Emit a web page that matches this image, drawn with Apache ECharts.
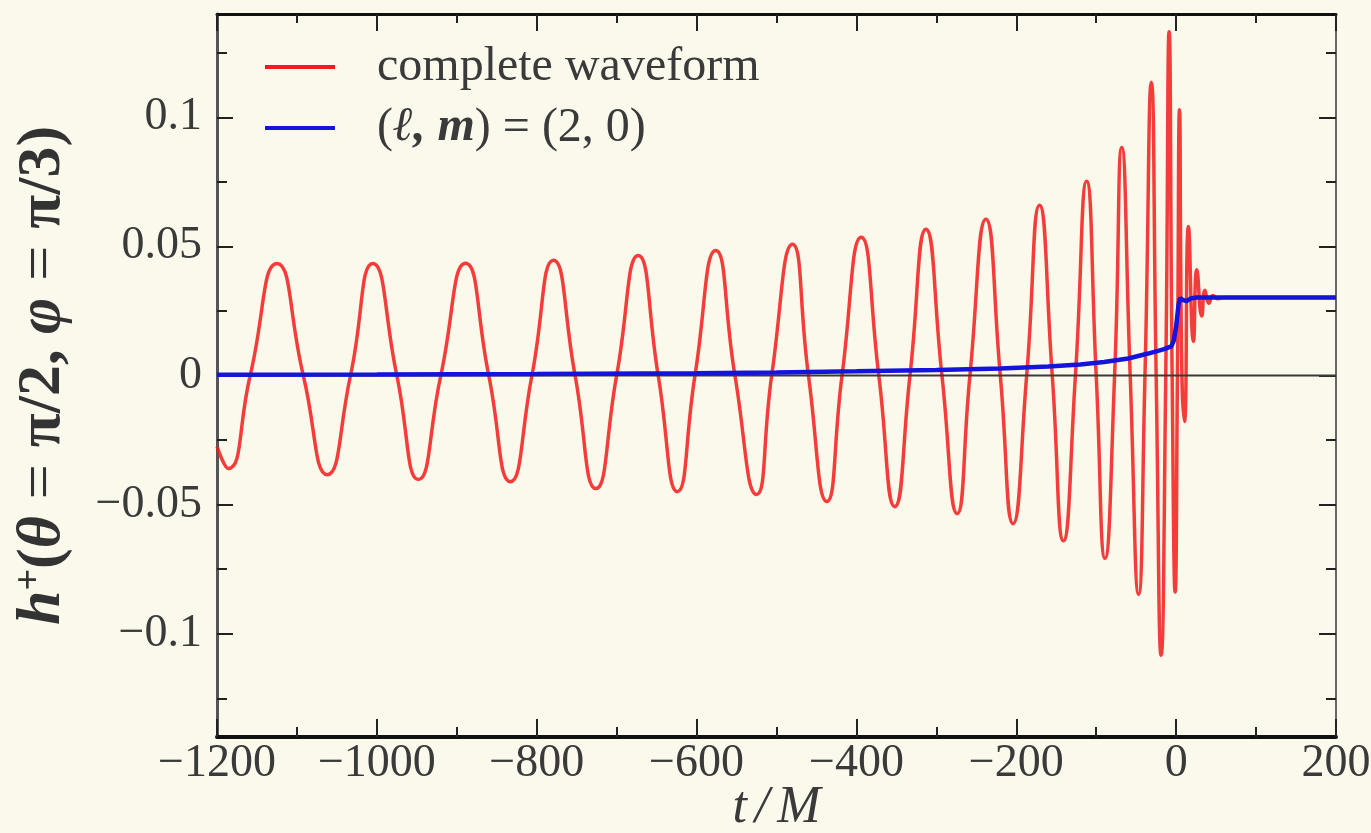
<!DOCTYPE html>
<html>
<head>
<meta charset="utf-8">
<script src="https://cdn.jsdelivr.net/npm/echarts@6/dist/echarts.min.js"></script>
<style>
  html, body { margin: 0; padding: 0; background: #FAF9EC; }
  #chart { width: 1371px; height: 833px; }
</style>
</head>
<body>
<div id="chart"></div>
<script>
// ---- data ----
const seriesNames = ['complete waveform', '(\u2113, m) = (2, 0)'];

// complete waveform h+ : [t/M, value] (peaks, troughs and zero crossings)
const completeWaveform = [
  [-1200, -0.0275], [-1186, -0.036], [-1158.5, 0], [-1125, 0.0434], [-1092, 0],
  [-1062, -0.0384], [-1033, 0], [-1005, 0.0434], [-975, 0], [-948, -0.0403],
  [-920, 0], [-889, 0.0435], [-860, 0], [-833, -0.0411], [-806, 0],
  [-779, 0.0446], [-752, 0], [-726, -0.0438], [-700, 0], [-673, 0.0465],
  [-648, 0], [-624, -0.045], [-602, 0], [-576, 0.0484], [-552, 0],
  [-525, -0.0461], [-506, 0], [-480, 0.0508], [-460, 0], [-437, -0.0488],
  [-418, 0], [-394, 0.0535], [-372, 0], [-352, -0.0508], [-333, 0],
  [-313, 0.0566], [-293, 0], [-274, -0.0535], [-258, 0], [-238, 0.0605],
  [-220, 0], [-204, -0.0574], [-187, 0], [-171, 0.0659], [-155, 0],
  [-141, -0.064], [-126, 0], [-112, 0.0752], [-100, 0], [-89, -0.0708],
  [-77, 0], [-68, 0.0883], [-57.5, 0], [-47, -0.0847], [-39, 0],
  [-31, 0.1136], [-25, 0], [-18.8, -0.1083], [-13, 0], [-8.8, 0.1331],
  [-5, 0], [-1.25, -0.0838], [1.6, 0], [4.2, 0.1029], [7.2, 0],
  [10.4, -0.0178], [15.4, 0.0577], [21.6, 0.0132], [25.9, 0.041], [32, 0.023],
  [36, 0.033], [41, 0.028], [46, 0.031], [52, 0.0297], [60, 0.0302],
  [80, 0.0302], [200, 0.0302]
];

// (l, m) = (2, 0) memory mode : [t/M, value]
const mode20 = [
  [-1200, 0.0003], [-1000, 0.0004], [-800, 0.0006], [-600, 0.0009], [-500, 0.0012],
  [-400, 0.0016], [-300, 0.0021], [-220, 0.0027], [-160, 0.0035], [-120, 0.0043],
  [-90, 0.0052], [-60, 0.0066], [-35, 0.0085], [-15, 0.0102], [-6, 0.0113],
  [-3, 0.0135], [0, 0.019], [3, 0.0275], [5, 0.030], [9, 0.0292],
  [13, 0.0288], [18, 0.0298], [25, 0.0302], [200, 0.0302]
];

// horizontal reference line h = 0
const zeroLine = [[-1200, 0], [200, 0]];

// axis ticks
const xMin = -1200, xMax = 200, xStep = 200;
const yMin = -0.14, yMax = 0.14;
const yMajorTicks = [-0.1, -0.05, 0, 0.05, 0.1];
const yMinorTicks = [-0.125, -0.075, -0.025, 0.025, 0.075, 0.125];

// ---- chart ----
const FONT = 'Liberation Serif';
const TXT = '#3a3a3a';
const fmt = v => (v < 0 ? '\u2212' : '') + Math.abs(v);

const xBase = {
  type: 'value', min: xMin, max: xMax, interval: xStep,
  splitLine: { show: false },
  axisLine: { show: true, onZero: false, lineStyle: { color: '#111', width: 4 } },
  axisTick: { show: true, inside: true, length: 18, lineStyle: { color: '#222', width: 2 } },
  minorTick: { show: true, splitNumber: 2, length: 10, lineStyle: { color: '#222', width: 2 } }
};
const yBase = {
  type: 'value', min: yMin, max: yMax,
  splitLine: { show: false }
};
const tickStyle = { color: '#222', width: 2 };
const titleStyle = { fontFamily: FONT, fontSize: 62, fontWeight: 'bold', color: '#333', lineHeight: 64 };
const xNameStyle = { fontFamily: FONT, fontStyle: 'italic', fontSize: 52, color: TXT, lineHeight: 50 };

const option = {
  backgroundColor: '#FAF9EC',
  animation: false,
  grid: { left: 217, right: 35, top: 14, bottom: 96, containLabel: false, outerBoundsMode: 'none' },
  legend: {
    orient: 'vertical', left: 265, top: 42, padding: 0, itemGap: 11,
    itemWidth: 70, itemHeight: 4, icon: 'rect', selectedMode: false,
    data: seriesNames,
    formatter: n => n === seriesNames[1] ? '{n|(}{i|\u2113, m}{n|) = (2, 0)}' : n,
    textStyle: {
      fontFamily: FONT, fontSize: 48, color: TXT, lineHeight: 50, padding: [0, 0, 0, 37],
      rich: {
        n: { fontFamily: FONT, fontSize: 48, color: TXT, lineHeight: 50 },
        i: { fontFamily: FONT, fontSize: 48, color: TXT, lineHeight: 50, fontStyle: 'italic', fontWeight: 'bold' }
      }
    }
  },
  xAxis: [
    Object.assign({}, xBase, {
      position: 'bottom',
      axisLabel: { fontFamily: FONT, fontSize: 46, color: TXT, margin: 4, formatter: fmt },
      name: '{a|t}{s|/}{a|M}', nameLocation: 'middle', nameGap: 46, nameMoveOverlap: false,
      nameTextStyle: {
        rich: {
          a: xNameStyle,
          s: Object.assign({}, xNameStyle, { padding: [0, 8, 0, 8] })
        }
      }
    }),
    Object.assign({}, xBase, {
      position: 'top',
      axisLine: { show: true, onZero: false, lineStyle: { color: '#111', width: 3 } },
      axisTick: { show: true, inside: true, length: 17, lineStyle: { color: '#222', width: 2 } },
      minorTick: { show: true, splitNumber: 2, length: 9, lineStyle: { color: '#222', width: 2 } },
      axisLabel: { show: false }
    })
  ],
  yAxis: [
    Object.assign({}, yBase, {
      position: 'left',
      axisLine: { show: true, onZero: false, lineStyle: { color: '#555', width: 3 } },
      axisTick: { show: true, inside: true, length: 16, customValues: yMajorTicks, lineStyle: tickStyle },
      axisLabel: { show: true, customValues: yMajorTicks, formatter: fmt, fontFamily: FONT, fontSize: 46, color: TXT, margin: 15 },
      name: '{h|h}{sup|+}{p|(}{h|\u03B8}{e|=}{p|\u03C0/2, }{h|\u03C6}{e|=}{p|\u03C0/3)}',
      nameLocation: 'middle', nameRotate: 90, nameGap: 142, nameMoveOverlap: false,
      nameTextStyle: {
        rich: {
          h: Object.assign({}, titleStyle, { fontStyle: 'italic' }),
          sup: { fontFamily: FONT, fontSize: 38, fontWeight: 'bold', color: '#333', lineHeight: 38, verticalAlign: 'top' },
          p: titleStyle,
          e: Object.assign({}, titleStyle, { fontWeight: 'normal', padding: [0, 17, 0, 17] })
        }
      }
    }),
    Object.assign({}, yBase, {
      position: 'left',
      axisLine: { show: false, onZero: false },
      axisTick: { show: true, inside: true, length: 10, customValues: yMinorTicks, lineStyle: tickStyle },
      axisLabel: { show: false }
    }),
    Object.assign({}, yBase, {
      position: 'right',
      axisLine: { show: true, onZero: false, lineStyle: { color: '#666', width: 2 } },
      axisTick: { show: true, inside: true, length: 17, customValues: yMajorTicks, lineStyle: tickStyle },
      axisLabel: { show: false }
    }),
    Object.assign({}, yBase, {
      position: 'right',
      axisLine: { show: false, onZero: false },
      axisTick: { show: true, inside: true, length: 10, customValues: yMinorTicks, lineStyle: tickStyle },
      axisLabel: { show: false }
    })
  ],
  series: [
    {
      name: seriesNames[0], type: 'line', data: completeWaveform, smooth: 0.55,
      showSymbol: false, symbol: 'none', color: '#F21C1C', z: 2, silent: true,
      lineStyle: { color: '#F21C1C', width: 3.5, opacity: 0.85 }
    },
    {
      name: 'zero', type: 'line', data: zeroLine, showSymbol: false, symbol: 'none',
      color: '#3a3a3a', z: 3, silent: true,
      lineStyle: { color: '#3a3a3a', width: 2 }
    },
    {
      name: seriesNames[1], type: 'line', data: mode20, smooth: false,
      showSymbol: false, symbol: 'none', color: '#1414DC', z: 4, silent: true,
      lineStyle: { color: '#1414DC', width: 4.5 }
    }
  ]
};

const chart = echarts.init(document.getElementById('chart'), null, { renderer: 'canvas' });
chart.setOption(option);
</script>
</body>
</html>
